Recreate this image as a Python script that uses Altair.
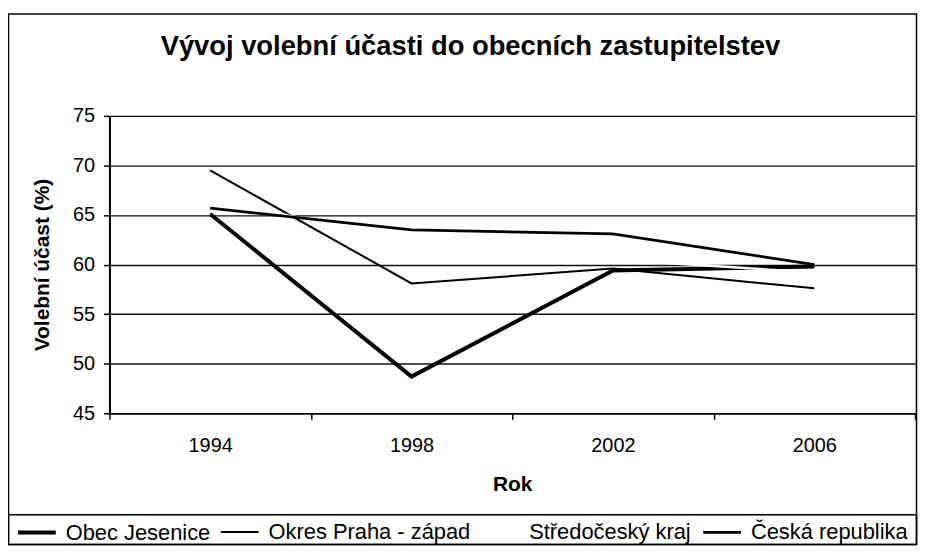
import altair as alt
import pandas as pd

# ---- data ----
years = ["1994", "1998", "2002", "2006"]
series_names = ["Obec Jesenice", "Okres Praha - západ", "Středočeský kraj", "Česká republika"]
obec_jesenice = [65.1, 48.7, 59.4, 59.8]
okres_praha_zapad = [69.5, 58.1, 59.6, 57.6]
stredocesky_kraj = [66.5, 62.5, 60.5, 59.2]
ceska_republika = [65.7, 63.5, 63.1, 60.0]
y_ticks = [45, 50, 55, 60, 65, 70, 75]

title_text = "Vývoj volební účasti do obecních zastupitelstev"
x_title = "Rok"
y_title = "Volební účast (%)"

# styles
series_colors = ["#000000", "#000000", "#ffffff", "#000000"]
series_widths = [4.0, 2.0, 2.5, 2.8]
FONT = "Liberation Sans"

rows = []
for name, vals in zip(series_names, [obec_jesenice, okres_praha_zapad, stredocesky_kraj, ceska_republika]):
    for yr, v in zip(years, vals):
        rows.append({"Rok": yr, "Řada": name, "Účast": v})
df = pd.DataFrame(rows)

W, H = 810, 299

legend = alt.Legend(
    title=None, orient="none", legendX=-94, legendY=398, direction="horizontal",
    columns=4, symbolType="stroke", symbolSize=1444, labelFont=FONT, labelFontSize=22,
    labelColor="black", labelOffset=8, columnPadding=6, padding=0, labelLimit=400,
)

enc = dict(
    x=alt.X("Rok:N", sort=years,
            scale=alt.Scale(type="band", paddingInner=0, paddingOuter=0),
            axis=alt.Axis(title=x_title, labelAngle=0, tickBand="extent", tickSize=6,
                          tickColor="black", tickWidth=1.5, domainColor="black", domainWidth=1.5,
                          labelFont=FONT, labelFontSize=20, labelColor="black",
                          labelBaseline="alphabetic", labelPadding=32,
                          titleFont=FONT, titleFontSize=21, titleFontWeight="bold",
                          titleColor="black", titleBaseline="alphabetic", titleY=78,
                          grid=False)),
    y=alt.Y("Účast:Q",
            scale=alt.Scale(domain=[45, 75], nice=False, zero=False),
            axis=alt.Axis(title=y_title, values=y_ticks, tickSize=6, tickColor="black",
                          tickWidth=1.5, domainColor="black", domainWidth=2,
                          labelFont=FONT, labelFontSize=20, labelColor="black", labelPadding=9,
                          titleFont=FONT, titleFontSize=21, titleFontWeight="bold",
                          titleColor="black", titleAngle=270, titleBaseline="middle",
                          titleAlign="center", titleX=-67, titleY=H / 2,
                          grid=True, gridColor="#111111", gridWidth=1.4)),
    color=alt.Color("Řada:N", sort=series_names,
                    scale=alt.Scale(domain=series_names, range=series_colors), legend=legend),
    strokeWidth=alt.StrokeWidth("Řada:N", sort=series_names,
                                scale=alt.Scale(type="ordinal", domain=series_names,
                                                range=series_widths),
                                legend=legend),
)

line_layers = []
for name in series_names:
    line_layers.append(
        alt.Chart(df).transform_filter(alt.datum["Řada"] == name)
        .mark_line(strokeJoin="miter")
        .encode(**enc)
    )

one = pd.DataFrame({"k": [0]})
frame = alt.Chart(one).mark_rect(filled=False, stroke="black", strokeWidth=1.5).encode(
    x=alt.value(-101.5), x2=alt.value(811.5), y=alt.value(-102.5), y2=alt.value(431))
legend_box = alt.Chart(one).mark_rect(filled=False, stroke="black", strokeWidth=1.5).encode(
    x=alt.value(-101.5), x2=alt.value(811.5), y=alt.value(401), y2=alt.value(431))
title = alt.Chart(one).mark_text(
    text=title_text, font=FONT, fontSize=27.5, fontWeight="bold", color="black",
    align="center", baseline="alphabetic").encode(x=alt.value(363), y=alt.value(-61))

chart = alt.layer(frame, legend_box, title, *line_layers).properties(
    width=W, height=H,
    padding={"left": 102, "top": 107, "right": 4, "bottom": 133},
    autosize=alt.AutoSizeParams(type="none"),
).configure_view(stroke=None).configure(background="white")

chart.save("out.html", embed_options={"renderer": "svg", "actions": False})
